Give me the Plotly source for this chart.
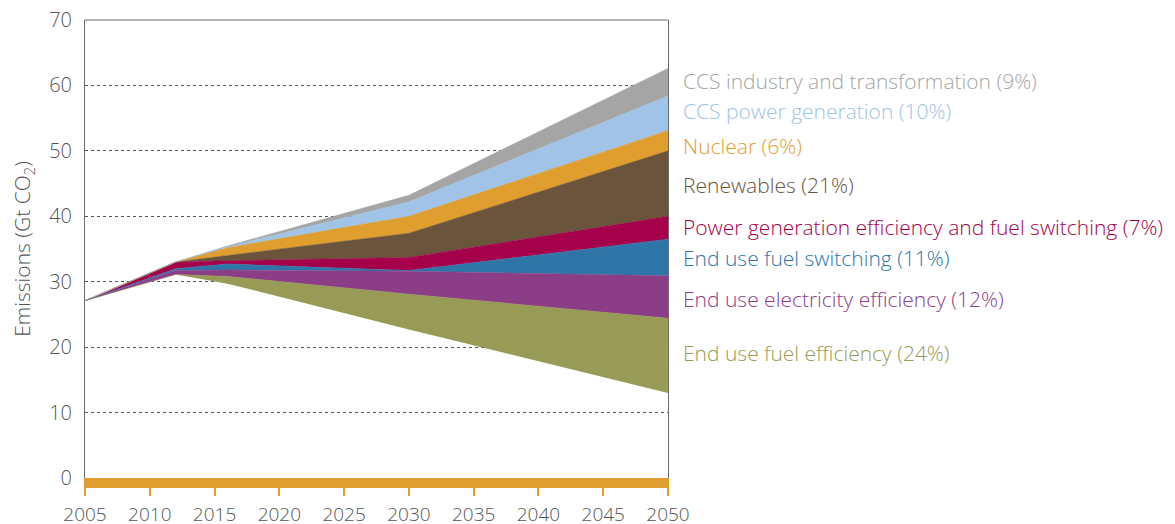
import plotly.graph_objects as go

years = [2005, 2012, 2016, 2030, 2050]

# remaining emissions (bottom edge of the stack)
final_emissions = [27.1, 31.1, 29.7, 22.7, 13.0]

# reductions (layer thickness, Gt CO2), bottom to top
end_use_fuel_eff = [0.0, 0.0, 1.1, 5.4, 11.4]
end_use_elec_eff = [0.0, 0.6, 1.0, 3.5, 6.5]
end_use_fuel_switch = [0.0, 0.3, 0.9, 0.1, 5.6]
power_gen_eff = [0.0, 1.0, 0.5, 2.0, 3.5]
renewables = [0.0, 0.0, 0.8, 3.7, 10.0]
nuclear = [0.0, 0.0, 1.2, 2.6, 3.1]
ccs_power = [0.0, 0.0, 0.15, 2.2, 5.3]
ccs_industry = [0.0, 0.0, 0.1, 1.0, 4.2]

layers = [
    ("End use fuel efficiency (24%)", end_use_fuel_eff, "#989b55", 19.1),
    ("End use electricity efficiency (12%)", end_use_elec_eff, "#8b3e86", 27.4),
    ("End use fuel switching (11%)", end_use_fuel_switch, "#2e76a8", 33.7),
    ("Power generation efficiency and fuel switching (7%)", power_gen_eff, "#a5004a", 38.3),
    ("Renewables (21%)", renewables, "#6b543c", 44.8),
    ("Nuclear (6%)", nuclear, "#df9e2e", 50.7),
    ("CCS power generation (10%)", ccs_power, "#a0c3e7", 56.1),
    ("CCS industry and transformation (9%)", ccs_industry, "#a5a5a5", 60.7),
]

x_ticks = list(range(2005, 2051, 5))
y_ticks = list(range(0, 71, 10))

FONT = "Open Sans"
TXT = "#555555"

fig = go.Figure()
fig.add_trace(go.Scatter(
    x=years, y=final_emissions, stackgroup="s", mode="lines",
    line=dict(width=0), fillcolor="rgba(0,0,0,0)", hoverinfo="skip",
    showlegend=False,
))
for name, vals, color, _ in layers:
    fig.add_trace(go.Scatter(
        x=years, y=vals, stackgroup="s", mode="lines", name=name,
        line=dict(width=0.6, color=color), fillcolor=color,
        showlegend=False,
    ))

for name, vals, color, ypos in layers:
    fig.add_annotation(
        x=2050, y=ypos, xref="x", yref="y", text=name, showarrow=False,
        xanchor="left", yanchor="middle", xshift=13,
        font=dict(family=FONT, size=21, color=color, weight=300),
    )

# top frame line
fig.add_shape(type="line", xref="paper", yref="paper", x0=0, x1=1, y0=1, y1=1,
              line=dict(color="#6a6a6a", width=1))

# the page body adds an 8px offset, so the figure is drawn 8px smaller
fig.update_layout(
    width=1167, height=516,
    margin=dict(l=77, r=507, t=12, b=46),
    paper_bgcolor="white", plot_bgcolor="white",
    font=dict(family=FONT, color=TXT, weight=300),
    xaxis=dict(
        range=[2005, 2050], tickvals=x_ticks, ticktext=[str(v) for v in x_ticks],
        showgrid=False, zeroline=False, automargin=False,
        showline=True, linecolor="#df9e2e", linewidth=10,
        ticks="outside", tickcolor="#df9e2e", ticklen=8, tickwidth=2,
        ticklabelstandoff=2, ticklabeloverflow="allow",
        tickfont=dict(family=FONT, size=19, color=TXT, weight=300),
    ),
    yaxis=dict(
        range=[0, 70], tickvals=y_ticks, ticktext=[str(v) for v in y_ticks],
        showgrid=True, gridcolor="#555555", griddash="dot", gridwidth=1,
        zeroline=False, automargin=False,
        showline=True, linecolor="#6a6a6a", linewidth=1, mirror=True,
        ticks="", ticklabelstandoff=8, ticklabeloverflow="allow",
        tickfont=dict(family=FONT, size=20, color=TXT, weight=300),
        title=dict(text="Emissions (Gt CO<sub>2</sub>)", standoff=12,
                   font=dict(family=FONT, size=21, color=TXT, weight=300)),
    ),
)

fig.write_html("out.html")
